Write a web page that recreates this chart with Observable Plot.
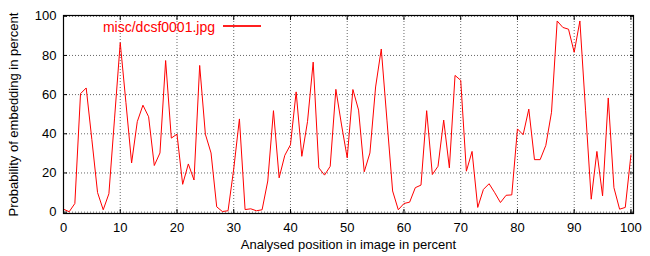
<!DOCTYPE html>
<html><head><meta charset="utf-8">
<script src="https://cdn.jsdelivr.net/npm/d3@7"></script>
<script src="https://cdn.jsdelivr.net/npm/@observablehq/plot@0.6"></script>
<style>
body{margin:0;background:#fff}
#wrap{position:relative;width:650px;height:256px}
#legendText{position:absolute;right:435px;top:20px;font-family:"Liberation Sans",Arial,sans-serif;font-size:14px;line-height:14px;color:#ff0000;white-space:nowrap;z-index:2}
#legendLine{position:absolute;left:223px;top:25px;width:38px;height:1.5px;background-color:#ff2020;z-index:2}
</style>
</head><body><div id="wrap"></div>
<script>
const seriesName = "misc/dcsf0001.jpg";
const xTitle = "Analysed position in image in percent";
const yTitle = "Probability of embedding in percent";
const xTicks = [0, 10, 20, 30, 40, 50, 60, 70, 80, 90, 100];
const yTicks = [0, 20, 40, 60, 80, 100];
const positions = [0,1,2,3,4,5,6,7,8,9,10,11,12,13,14,15,16,17,18,19,20,21,22,23,24,25,26,27,28,29,30,31,32,33,34,35,36,37,38,39,40,41,42,43,44,45,46,47,48,49,50,51,52,53,54,55,56,57,58,59,60,61,62,63,64,65,66,67,68,69,70,71,72,73,74,75,76,77,78,79,80,81,82,83,84,85,86,87,88,89,90,91,92,93,94,95,96,97,98,99,100];
const probability = [
  1.5, 0.2, 4.4, 60.5, 63.4, 37, 10, 1.2, 9.4, 48,
  86.5, 56, 25.1, 46.2, 54.6, 48.7, 23.8, 30.2, 77.4, 37.8,
  39.8, 14.2, 24.6, 16.4, 74.9, 39.8, 30.2, 2.7, 0.3, 0.7,
  22, 47.6, 1.3, 1.7, 0.7, 1.2, 15.9, 51.8, 17.5, 29,
  34.4, 61.4, 28.5, 46.2, 76.6, 22.6, 18.9, 23.4, 62.7, 44.5,
  27.7, 62.6, 52.1, 20.6, 30.2, 63.9, 83.3, 47, 10.8, 1.2,
  4.4, 5.1, 12.5, 13.8, 51.8, 19.2, 23.4, 47, 22.6, 69.8,
  67.3, 20.9, 31, 2.4, 11.6, 14.5, 9.9, 4.9, 8.6, 8.8,
  42.5, 39.5, 52.6, 26.8, 26.8, 34.1, 51, 97.6, 94.3, 93.4,
  81.6, 97.6, 52, 6.6, 31, 8.3, 58.3, 12.5, 1.5, 2.4,
  29.3
];
const data = positions.map((p, i) => ({pos: p, prob: probability[i]}));

const gridStyle = {stroke: "#000", strokeOpacity: 0.6, strokeDasharray: "1,2"};
const chart = Plot.plot({
  width: 650, height: 256,
  marginLeft: 63, marginRight: 17, marginTop: 15, marginBottom: 43,
  style: {fontFamily: "'Liberation Sans', Arial, sans-serif", fontSize: "13px", color: "#000", background: "#fff"},
  x: {domain: [0, 100.45]},
  y: {domain: [-0.7, 100.4]},
  marks: [
    Plot.gridX(xTicks, gridStyle),
    Plot.gridY(yTicks, gridStyle),
    Plot.axisX(xTicks, {anchor: "bottom", tickSize: 0, tickPadding: 9, label: null, fontSize: 13}),
    Plot.axisY(yTicks, {anchor: "left", tickSize: 0, tickPadding: 7, label: null, fontSize: 13}),
    Plot.axisX(xTicks, {anchor: "bottom", tickSize: 4, fill: "none", label: null, dy: -4}),
    Plot.axisX(xTicks, {anchor: "top", tickSize: 4, fill: "none", label: null, dy: 4}),
    Plot.axisY(yTicks, {anchor: "left", tickSize: 4, fill: "none", label: null, dx: 4}),
    Plot.axisY(yTicks, {anchor: "right", tickSize: 4, fill: "none", label: null, dx: -4}),
    Plot.line(data, {x: "pos", y: "prob", stroke: "#ff0000", strokeWidth: 1}),
    Plot.frame({stroke: "#000", strokeWidth: 1.2}),
    Plot.text([xTitle], {text: d => d, frameAnchor: "bottom", lineAnchor: "middle", textAnchor: "middle", dy: 31, fontSize: 13}),
    Plot.text([yTitle], {text: d => d, frameAnchor: "left", lineAnchor: "middle", textAnchor: "middle", rotate: -90, dx: -50, fontSize: 13})
  ]
});
const wrap = document.getElementById("wrap");
wrap.appendChild(chart);
const lt = document.createElement("div");
lt.id = "legendText";
lt.textContent = seriesName;
wrap.appendChild(lt);
const ll = document.createElement("div");
ll.id = "legendLine";
wrap.appendChild(ll);
</script>
</body></html>
